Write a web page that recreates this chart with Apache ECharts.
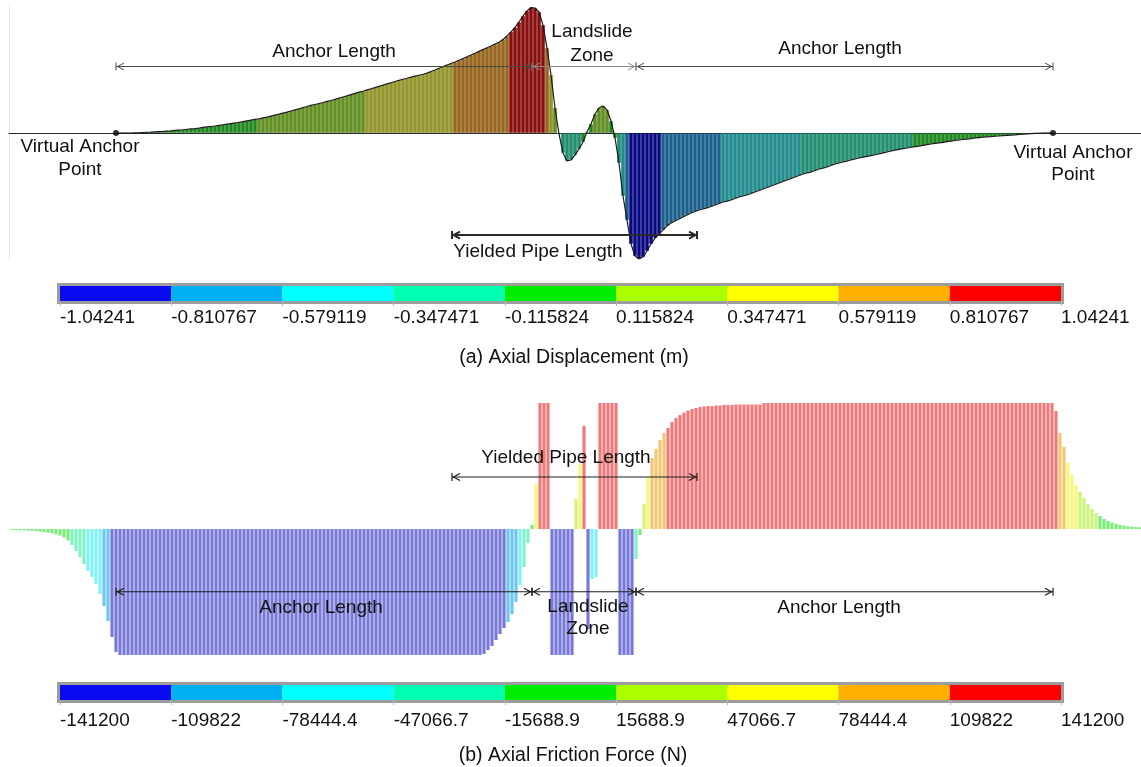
<!DOCTYPE html>
<html>
<head>
<meta charset="utf-8">
<script src="https://cdn.jsdelivr.net/npm/echarts@6.0.0/dist/echarts.min.js"></script>
<style>
html,body{margin:0;padding:0;background:#ffffff;}
#c{width:1141px;height:767px;}
</style>
</head>
<body>
<div id="c"></div>
<script>
// ---------- DATA ----------
// colour-bar boundaries
const dispTicks = [-1.04241, -0.810767, -0.579119, -0.347471, -0.115824, 0.115824, 0.347471, 0.579119, 0.810767, 1.04241];
const forceTicks = [-141200, -109822, -78444.4, -47066.7, -15688.9, 15688.9, 47066.7, 78444.4, 109822, 141200];

// stations along the pipe (uniform spacing)
const dispStart = 119, forceStart = 12, stationStep = 4;

// axial displacement (m), stations 119, 123, ... 1051
const displacement = [
  0, 0, 0, 0, 0.002, 0.002, 0.004, 0.006, 0.007, 0.009,
  0.011, 0.013, 0.016, 0.018, 0.021, 0.024, 0.027, 0.031, 0.034, 0.037,
  0.041, 0.046, 0.050, 0.054, 0.058, 0.063, 0.068, 0.073, 0.078, 0.083,
  0.089, 0.094, 0.100, 0.106, 0.112, 0.118, 0.125, 0.132, 0.140, 0.148,
  0.156, 0.165, 0.173, 0.182, 0.191, 0.201, 0.211, 0.219, 0.228, 0.236,
  0.244, 0.252, 0.261, 0.269, 0.278, 0.288, 0.298, 0.308, 0.318, 0.328,
  0.338, 0.345, 0.357, 0.366, 0.376, 0.386, 0.396, 0.406, 0.416, 0.426,
  0.436, 0.445, 0.453, 0.462, 0.470, 0.478, 0.486, 0.495, 0.509, 0.521,
  0.536, 0.550, 0.563, 0.575, 0.587, 0.602, 0.616, 0.631, 0.645, 0.660,
  0.675, 0.690, 0.705, 0.720, 0.736, 0.751, 0.774, 0.802, 0.836, 0.873,
  0.918, 0.968, 1.009, 1.038, 1.034, 1.001, 0.893, 0.703, 0.480, 0.207,
  -0.008, -0.165, -0.232, -0.223, -0.182, -0.132, -0.074, 0.008, 0.074, 0.157,
  0.207, 0.223, 0.190, 0.099, -0.041, -0.248, -0.521, -0.720, -0.918, -1.018,
  -1.042, -1.026, -0.976, -0.918, -0.869, -0.836, -0.802, -0.769, -0.745, -0.728,
  -0.711, -0.695, -0.678, -0.662, -0.649, -0.637, -0.629, -0.620, -0.608, -0.596,
  -0.583, -0.571, -0.563, -0.554, -0.542, -0.529, -0.521, -0.513, -0.501, -0.488,
  -0.476, -0.463, -0.451, -0.438, -0.426, -0.414, -0.401, -0.389, -0.376, -0.364,
  -0.352, -0.339, -0.331, -0.323, -0.310, -0.298, -0.290, -0.281, -0.269, -0.256,
  -0.248, -0.240, -0.232, -0.223, -0.215, -0.207, -0.200, -0.194, -0.187, -0.180,
  -0.174, -0.165, -0.157, -0.149, -0.141, -0.135, -0.129, -0.124, -0.118, -0.113,
  -0.108, -0.102, -0.096, -0.091, -0.086, -0.081, -0.077, -0.072, -0.067, -0.062,
  -0.058, -0.054, -0.050, -0.046, -0.041, -0.038, -0.035, -0.032, -0.030, -0.027,
  -0.025, -0.022, -0.020, -0.017, -0.015, -0.012, -0.010, -0.007, -0.005, -0.003,
  -0.002, -0.001, 0, 0
];

// axial friction force (N), stations 12, 16, ... 1140
const friction = [
  -1100, -1200, -1350, -1550, -1800, -2100, -2450, -2900, -3350, -4000,
  -4800, -5900, -7400, -9500, -12900, -17900, -24700, -31400, -39200, -47100,
  -53800, -61600, -72800, -86300, -103100, -121000, -137800,
  -141200, -141200, -141200, -141200, -141200, -141200, -141200, -141200, -141200, -141200, -141200, -141200, -141200,
  -141200, -141200, -141200, -141200, -141200, -141200, -141200, -141200, -141200, -141200, -141200, -141200, -141200,
  -141200, -141200, -141200, -141200, -141200, -141200, -141200, -141200, -141200, -141200, -141200, -141200, -141200,
  -141200, -141200, -141200, -141200, -141200, -141200, -141200, -141200, -141200, -141200, -141200, -141200, -141200,
  -141200, -141200, -141200, -141200, -141200, -141200, -141200, -141200, -141200, -141200, -141200, -141200, -141200,
  -141200, -141200, -141200, -141200, -141200, -141200, -141200, -141200, -141200, -141200, -141200, -141200, -141200,
  -141200, -141200, -141200, -141200, -141200, -141200, -141200, -141200, -141200, -141200, -141200, -141200, -141200,
  -140000, -135600, -131100, -124400, -117700, -110900, -104200, -95300, -81800, -62800, -42600, -15700,
  4500, 50400, 141200, 141200, 141200, -141200, -141200, -141200, -141200, -141200, -141200,
  33600, 72800, 115400, -112000, -56000, -53800,
  141200, 141200, 141200, 141200, 141200, -141200, -141200, -141200, -141200,
  -33600, -6700, 28000, 58300, 79600, 89600, 99700, 107600, 113200, 119900,
  124400, 127700, 130500, 132800, 134500, 135600, 136700, 137300, 137800, 137800,
  138400, 138400, 139000, 139000, 139000, 139500, 139500, 139500, 139500, 139500, 139500, 139500,
  141200, 141200, 141200, 141200, 141200, 141200, 141200, 141200, 141200, 141200, 141200, 141200, 141200,
  141200, 141200, 141200, 141200, 141200, 141200, 141200, 141200, 141200, 141200, 141200, 141200, 141200,
  141200, 141200, 141200, 141200, 141200, 141200, 141200, 141200, 141200, 141200, 141200, 141200, 141200,
  141200, 141200, 141200, 141200, 141200, 141200, 141200, 141200, 141200, 141200, 141200, 141200, 141200,
  141200, 141200, 141200, 141200, 141200, 141200, 141200, 141200, 141200, 141200, 141200, 141200, 141200,
  141200, 141200, 141200, 141200, 141200, 141200, 141200, 141200,
  132200, 107600, 91900, 74000, 60500, 49300, 41500, 34700, 28000, 22400,
  17900, 14600, 11200, 9000, 7300, 5800, 4700, 3800, 3100, 2600, 2200, 1900
];

// key stations
const anchorStations = [116, 1053];
const landslideZone = [532, 636];
const yieldedZone = [452, 697];

// ---------- STYLE ----------
const FONT = '"Liberation Sans", Arial, Helvetica, sans-serif';
const barPalette = ['#0a0af0', '#00b0f5', '#00ffff', '#00ffb0', '#00ec00', '#aaff00', '#ffff00', '#ffb000', '#ff0000'];
const dispPalette = ['#07078a', '#17608f', '#1c8e92', '#1d9070', '#1c8a1c', '#62921e', '#979726', '#9c661a', '#8e0b0b'];
const forcePalette = ['#7878d8', '#6ec6f2', '#80f2f6', '#80f3c4', '#7ceb7c', '#ccf47a', '#f7f77a', '#f2c674', '#ee7b7b'];

function binOf(v, ticks) {
  for (let i = 1; i < ticks.length - 1; i++) { if (v < ticks[i]) return i - 1; }
  return ticks.length - 2;
}

const dispData = displacement.map((v, i) => [dispStart + i * stationStep, v]);
const fricData = friction.map((v, i) => [forceStart + i * stationStep, v]);

function arrowSeries(gi, segments, level, color, lw) {
  return {
    type: 'custom', coordinateSystem: 'cartesian2d', xAxisIndex: gi, yAxisIndex: gi,
    silent: true, z: 6, clip: false,
    data: segments.map(s => [s[0], s[1], level]), encode: { x: [0, 1], y: 2 },
    renderItem(params, api) {
      const p1 = api.coord([api.value(0), api.value(2)]);
      const p2 = api.coord([api.value(1), api.value(2)]);
      const x1 = p1[0], x2 = p2[0], y = p1[1];
      const st = { stroke: color, lineWidth: lw, fill: null };
      return { type: 'group', children: [
        { type: 'line', shape: { x1: x1, y1: y, x2: x2, y2: y }, style: st },
        { type: 'line', shape: { x1: x1, y1: y - 4, x2: x1, y2: y + 4 }, style: st },
        { type: 'line', shape: { x1: x2, y1: y - 4, x2: x2, y2: y + 4 }, style: st },
        { type: 'polyline', shape: { points: [[x1 + 8, y - 3.5], [x1 + 1.5, y], [x1 + 8, y + 3.5]] }, style: st },
        { type: 'polyline', shape: { points: [[x2 - 8, y - 3.5], [x2 - 1.5, y], [x2 - 8, y + 3.5]] }, style: st }
      ] };
    }
  };
}

function colorbarSeries(gi, ticks, palette) {
  return {
    type: 'custom', coordinateSystem: 'cartesian2d', xAxisIndex: gi, yAxisIndex: gi, silent: true,
    data: ticks.slice(1).map((t, i) => [i, i + 1, 0]), encode: { x: [0, 1], y: 2 },
    renderItem(params, api) {
      const a = api.coord([api.value(0), 1]);
      const b = api.coord([api.value(1), 0]);
      return { type: 'rect', shape: { x: a[0], y: a[1], width: b[0] - a[0], height: b[1] - a[1] },
        style: { fill: palette[params.dataIndex] } };
    }
  };
}

function txt(text, x, y, size) {
  return { type: 'text', x: x, y: y, z: 100, silent: true,
    style: { text: text, font: (size || 19) + 'px ' + FONT, fill: '#111', align: 'center', verticalAlign: 'middle' } };
}

const hiddenAxis = { show: true, axisLine: { show: false }, axisTick: { show: false }, axisLabel: { show: false }, splitLine: { show: false } };

const option = {
  animation: false,
  backgroundColor: '#ffffff',
  grid: [
    { left: 9, right: 0, top: 7, height: 252, outerBoundsMode: 'none' },
    { left: 9, right: 0, top: 403, height: 252, outerBoundsMode: 'none' },
    { left: 60, width: 1001, top: 286, height: 15, show: true, borderColor: '#9d9d9d', borderWidth: 6, outerBoundsMode: 'none' },
    { left: 60, width: 1001, top: 685, height: 15, show: true, borderColor: '#9d9d9d', borderWidth: 6, outerBoundsMode: 'none' }
  ],
  xAxis: [
    Object.assign({}, hiddenAxis, { type: 'value', gridIndex: 0, min: 9, max: 1141,
      axisLine: { show: true, onZero: true, lineStyle: { color: '#2a2a2a', width: 1 } } }),
    Object.assign({}, hiddenAxis, { type: 'value', gridIndex: 1, min: 9, max: 1141 }),
    { type: 'value', gridIndex: 2, min: 0, max: 9, interval: 1, splitLine: { show: false },
      axisLine: { show: false }, axisTick: { show: true, length: 5, lineStyle: { color: '#b5b5b5' } },
      axisLabel: { show: true, align: 'left', margin: 7, fontSize: 19, color: '#111', fontFamily: FONT,
        formatter: v => String(dispTicks[Math.round(v)]) } },
    { type: 'value', gridIndex: 3, min: 0, max: 9, interval: 1, splitLine: { show: false },
      axisLine: { show: false }, axisTick: { show: true, length: 5, lineStyle: { color: '#b5b5b5' } },
      axisLabel: { show: true, align: 'left', margin: 11, fontSize: 19, color: '#111', fontFamily: FONT,
        formatter: v => String(forceTicks[Math.round(v)]) } }
  ],
  yAxis: [
    Object.assign({}, hiddenAxis, { type: 'value', gridIndex: 0, min: dispTicks[0], max: dispTicks[9],
      axisLine: { show: true, onZero: false, lineStyle: { color: '#e4e4e4', width: 1 } } }),
    Object.assign({}, hiddenAxis, { type: 'value', gridIndex: 1, min: forceTicks[0], max: forceTicks[9] }),
    Object.assign({}, hiddenAxis, { type: 'value', gridIndex: 2, min: 0, max: 1 }),
    Object.assign({}, hiddenAxis, { type: 'value', gridIndex: 3, min: 0, max: 1 })
  ],
  series: [
    {
      name: 'Axial Displacement', type: 'bar', xAxisIndex: 0, yAxisIndex: 0, barWidth: 4, silent: true,
      data: dispData,
      itemStyle: { color: p => dispPalette[binOf(p.value[1], dispTicks)], borderColor: 'rgba(0,0,0,0.16)', borderWidth: 0.5 }
    },
    {
      name: 'Displacement outline', type: 'line', xAxisIndex: 0, yAxisIndex: 0, data: dispData,
      symbol: 'none', silent: true, z: 4, lineStyle: { color: '#1a1a1a', width: 1.2 }
    },
    {
      name: 'Virtual Anchor Point', type: 'scatter', xAxisIndex: 0, yAxisIndex: 0, silent: true, z: 7,
      data: anchorStations.map(s => [s, 0]), symbolSize: 6, itemStyle: { color: '#000' }
    },
    {
      name: 'Axial Friction Force', type: 'bar', xAxisIndex: 1, yAxisIndex: 1, barWidth: 3.2, silent: true,
      data: fricData,
      itemStyle: { color: p => forcePalette[binOf(p.value[1], forceTicks)] }
    },
    arrowSeries(0, [[anchorStations[0], landslideZone[0]], [landslideZone[1], anchorStations[1]]], 0.55, '#4a4a4a', 1),
    arrowSeries(0, [[landslideZone[0], landslideZone[1]]], 0.55, '#8a8a8a', 1),
    arrowSeries(0, [[yieldedZone[0], yieldedZone[1]]], -0.844, '#2a2a2a', 2),
    arrowSeries(1, [[anchorStations[0], landslideZone[0]], [landslideZone[0], landslideZone[1]], [landslideZone[1], anchorStations[1]]], -70300, '#1e1e1e', 1.2),
    arrowSeries(1, [[yieldedZone[0], yieldedZone[1]]], 58300, '#1e1e1e', 1.2),
    colorbarSeries(2, dispTicks, barPalette),
    colorbarSeries(3, forceTicks, barPalette)
  ],
  graphic: [
    txt('Anchor Length', 334, 52),
    txt('Landslide', 592, 32),
    txt('Zone', 592, 56),
    txt('Anchor Length', 840, 49),
    txt('Yielded Pipe Length', 538, 252),
    txt('Virtual Anchor', 80, 147),
    txt('Point', 80, 170),
    txt('Virtual Anchor', 1073, 153),
    txt('Point', 1073, 175),
    txt('(a) Axial Displacement (m)', 574, 358, 19.5),
    txt('Yielded Pipe Length', 566, 458),
    txt('Anchor Length', 321, 608),
    txt('Landslide', 588, 607),
    txt('Zone', 588, 629),
    txt('Anchor Length', 839, 608),
    txt('(b) Axial Friction Force (N)', 573, 756, 19.5)
  ]
};

const chart = echarts.init(document.getElementById('c'), null, { renderer: 'canvas' });
chart.setOption(option);
</script>
</body>
</html>
